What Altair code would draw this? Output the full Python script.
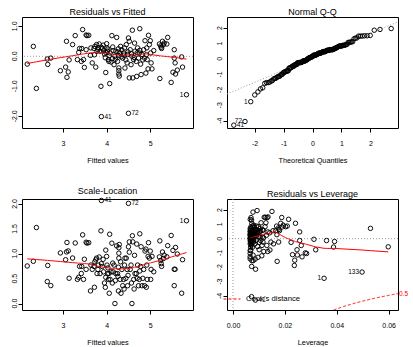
import math
from statistics import NormalDist
import numpy as np
import pandas as pd
import altair as alt

obs_ids = ["1", "41", "72", "133"]   # the four observations that R names
fitted = [5.83, 3.88, 4.50, 2.39,
          2.18, 2.32, 2.64, 2.65, 2.72, 2.94, 3.06, 3.08, 3.09, 3.12,
          3.14, 3.22, 3.28, 3.33, 3.36, 3.38, 3.42, 3.43, 3.45, 3.47,
          3.49, 3.53, 3.53, 3.55, 3.59, 3.63, 3.64, 3.67, 3.71, 3.73,
          3.75, 3.77, 3.78, 3.81, 3.83, 3.85, 3.87, 3.90, 3.92, 3.93,
          3.98, 3.98, 4.00, 4.01, 4.02, 4.04, 4.05, 4.07, 4.08, 4.10,
          4.12, 4.13, 4.15, 4.17, 4.19, 4.21, 4.23, 4.25, 4.27, 4.28,
          4.28, 4.28, 4.29, 4.31, 4.32, 4.35, 4.37, 4.39, 4.41, 4.42,
          4.45, 4.47, 4.48, 4.50, 4.52, 4.52, 4.54, 4.56, 4.58, 4.59,
          4.60, 4.62, 4.64, 4.65, 4.68, 4.69, 4.71, 4.73, 4.75, 4.76,
          4.78, 4.79, 4.81, 4.85, 4.87, 4.88, 4.90, 4.92, 4.93, 4.95,
          4.96, 4.98, 5.00, 5.01, 5.02, 5.04, 5.08, 5.21, 5.22, 5.25,
          5.26, 5.28, 5.32, 5.38, 5.40, 5.48, 5.52, 5.55, 5.55, 5.57,
          5.58, 5.62, 5.72, 5.74,
          3.72, 3.80, 3.88, 3.95, 4.03, 4.06, 4.14, 4.20, 4.26, 4.33,
          4.40, 4.44, 4.49, 4.57, 4.63, 4.70, 4.76, 4.83, 4.91, 5.24,
          5.30, 4.27, 3.97]
resid = [-1.28, -2.01, -1.90, -1.07,
         -0.26, 0.33, -0.09, -0.27, -0.06, -0.48, -0.36, 0.50, -0.70, -0.52,
         -0.12, 0.39, 0.69, -0.11, 0.13, 0.26, -0.17, 0.26, 0.89, -0.11,
         -0.37, 0.71, 0.22, 0.69, 0.70, 0.03, 0.28, -0.22, 0.26, 0.33,
         -0.36, 0.39, 0.17, 0.28, 0.41, 0.17, -1.00, 0.26, 0.37, 0.19,
         -0.54, 0.13, 0.42, 0.28, 0.17, -0.11, -0.17, -0.91, 0.11, -0.19,
         0.69, -0.08, 0.19, -0.28, 0.00, 0.17, 0.63, -0.17, 0.03, -0.39,
         -0.48, -0.59, -0.66, 0.11, 0.33, 0.22, -0.06, 0.11, 0.28, -0.39,
         0.39, -0.22, 0.06, 0.61, -0.72, 0.50, 0.22, -0.28, 0.00, 0.87,
         -0.72, -0.11, 0.44, 0.17, -0.17, -0.67, 0.28, -0.06, 0.11, 0.92,
         -0.26, -0.61, 0.06, 0.22, -0.06, 0.52, -0.56, 0.28, -0.11, -0.42,
         0.70, 0.39, 0.52, 0.11, -0.22, -0.42, 0.19, 0.41, -0.74, 0.30,
         0.26, 0.50, 0.44, 0.41, 0.63, -0.87, -0.53, -0.06, 0.22, -0.22,
         -0.59, -0.46, -0.02, -0.36,
         0.05, 0.22, 0.30, 0.08, 0.24, 0.02, 0.31, -0.10, 0.14, -0.02,
         0.04, -0.12, 0.15, 0.08, -0.04, 0.12, 0.20, -0.12, 0.05, 0.35,
         0.38, 0.25, -0.05]

n_params = 2
cook_level = 0.5

titles = ["Residuals vs Fitted", "Normal Q-Q", "Scale-Location", "Residuals vs Leverage"]
x_titles = ["Fitted values", "Theoretical Quantiles", "Fitted values", "Leverage"]
legend_label = "Cook's distance"

# axis ranges and ticks
fit_dom = [2.06, 5.98]
p1_ydom = [-2.39, 1.31]
p2_xdom = [-2.95, 2.95]
p2_ydom = [-4.47, 2.71]
p3_ydom = [-0.13, 2.10]
p4_xdom = [-0.0023, 0.0636]
p4_ydom = [-4.98, 2.77]
fit_ticks = [3, 4, 5]
p1_yticks = [-2, -1, 0, 1]
p2_xticks = [-2, -1, 0, 1, 2]
p2_yticks = [-4, -3, -2, -1, 0, 1, 2]
p3_yticks = [0, 0.5, 1, 1.5, 2]
p4_xticks = [0, 0.01, 0.02, 0.03, 0.04, 0.05, 0.06]
p4_yticks = [-4, -3, -2, -1, 0, 1, 2]

FONT = "Liberation Sans"
W, H = 171, 111
TICK = 4
PAD_L, PAD_T = 10, 7
HSP, VSP = 21, 22

# ---- standard lm diagnostics derived from the observations ----
f = np.array(fitted)
r = np.array(resid)
n = len(f)
ids = obs_ids + [""] * (n - len(obs_ids))
s = math.sqrt((r ** 2).sum() / (n - n_params))
fc = f - f.mean()
lev = 1 / n + fc ** 2 / (fc ** 2).sum()
std = r / (s * np.sqrt(1 - lev))
df = pd.DataFrame(dict(fitted=f, resid=r, lev=lev, std=std,
                       sl=np.sqrt(np.abs(std)),
                       cook=std ** 2 * lev / (n_params * (1 - lev)),
                       id=ids))

order = np.argsort(std)
qq = pd.DataFrame(dict(theo=[NormalDist().inv_cdf((i + 0.5) / n) for i in range(n)],
                       std=std[order], id=[ids[i] for i in order],
                       absr=np.abs(r[order])))

q1, q3 = np.quantile(std, [0.25, 0.75])
x1, x3 = NormalDist().inv_cdf(0.25), NormalDist().inv_cdf(0.75)
slope = (q3 - q1) / (x3 - x1)
icpt = q1 - slope * x1
qqline = pd.DataFrame(dict(theo=p2_xdom, std=[icpt + slope * v for v in p2_xdom]))


def label_frame(d, xcol, ycol, rankcol, k=3):
    top = d.reindex(d[rankcol].abs().sort_values(ascending=False).index[:k])
    xs = top[xcol]
    mid = (xs.min() + xs.max()) / 2
    return pd.DataFrame(dict(x=xs.values, y=top[ycol].values, text=top["id"].values,
                             side=["right" if v < mid else "left" for v in xs]))


def labels(ld):
    right = alt.Chart(ld[ld.side == "right"]).mark_text(
        align="left", baseline="middle", dx=3, font=FONT, fontSize=6.5, color="black"
    ).encode(x="x:Q", y="y:Q", text="text:N")
    left = alt.Chart(ld[ld.side == "left"]).mark_text(
        align="right", baseline="middle", dx=-3, font=FONT, fontSize=6.5, color="black"
    ).encode(x="x:Q", y="y:Q", text="text:N")
    return [right, left]


def xax(title, vals, decimals=None):
    expr = f"format(datum.value, '.{decimals}f')" if decimals else "'' + datum.value"
    return alt.Axis(values=vals, title=title, labelOverlap=False, labelFlush=False,
                    labelExpr=f"replace({expr}, '\u2212', '-')")


def yax(vals):
    return alt.Axis(values=vals, title=None, labels=False)


def ylabels(vals, field, decimals):
    # rotated y tick labels (R style, reading bottom-to-top), one per tick value
    txt = [f"{v:.{decimals}f}" for v in vals]
    d = pd.DataFrame({field: vals, "lab": txt})
    return alt.Chart(d).mark_text(angle=270, align="center", baseline="bottom",
                                  font=FONT, fontSize=7, color="black").encode(
        x=alt.value(-TICK), y=alt.Y(f"{field}:Q"), text="lab:N")


def ttl(t):
    return alt.TitleParams(t, font=FONT, fontSize=9, fontWeight="normal",
                           offset=0, color="black")


pt = dict(shape="circle", filled=False, color="black", size=20, strokeWidth=0.95, opacity=1)
dot = dict(color="#9a9a9a", strokeDash=[1, 2], strokeWidth=1)

# Panel 1: Residuals vs Fitted
p1_pts = alt.Chart(df).mark_point(**pt).encode(
    x=alt.X("fitted:Q", scale=alt.Scale(domain=fit_dom, nice=False, zero=False),
            axis=xax(x_titles[0], fit_ticks)),
    y=alt.Y("resid:Q", scale=alt.Scale(domain=p1_ydom, nice=False, zero=False),
            axis=yax(p1_yticks)))
p1_zero = alt.Chart(pd.DataFrame(dict(resid=[0.0]))).mark_rule(**dot).encode(y="resid:Q")
p1_smooth = alt.Chart(df).transform_loess("fitted", "resid", bandwidth=0.67).mark_line(
    color="red", strokeWidth=1).encode(x="fitted:Q", y="resid:Q")
p1 = alt.layer(p1_zero, p1_pts, p1_smooth, ylabels(p1_yticks, "resid", 1),
               *labels(label_frame(df, "fitted", "resid", "resid"))).properties(
    width=W, height=H, title=ttl(titles[0]))

# Panel 2: Normal Q-Q
p2_pts = alt.Chart(qq).mark_point(**pt).encode(
    x=alt.X("theo:Q", scale=alt.Scale(domain=p2_xdom, nice=False, zero=False),
            axis=xax(x_titles[1], p2_xticks)),
    y=alt.Y("std:Q", scale=alt.Scale(domain=p2_ydom, nice=False, zero=False),
            axis=yax(p2_yticks)))
p2_line = alt.Chart(qqline).mark_line(clip=True, **dot).encode(x="theo:Q", y="std:Q")
p2 = alt.layer(p2_line, p2_pts, ylabels(p2_yticks, "std", 0),
               *labels(label_frame(qq, "theo", "std", "absr"))).properties(
    width=W, height=H, title=ttl(titles[1]))

# Panel 3: Scale-Location
p3_pts = alt.Chart(df).mark_point(**pt).encode(
    x=alt.X("fitted:Q", scale=alt.Scale(domain=fit_dom, nice=False, zero=False),
            axis=xax(x_titles[2], fit_ticks)),
    y=alt.Y("sl:Q", scale=alt.Scale(domain=p3_ydom, nice=False, zero=False),
            axis=yax(p3_yticks)))
p3_smooth = alt.Chart(df).transform_loess("fitted", "sl", bandwidth=0.67).mark_line(
    color="red", strokeWidth=1).encode(x="fitted:Q", y="sl:Q")
p3 = alt.layer(p3_pts, p3_smooth, ylabels(p3_yticks, "sl", 1),
               *labels(label_frame(df, "fitted", "sl", "std"))).properties(
    width=W, height=H, title=ttl(titles[2]))

# Panel 4: Residuals vs Leverage
p4_pts = alt.Chart(df).mark_point(clip=True, **pt).encode(
    x=alt.X("lev:Q", scale=alt.Scale(domain=p4_xdom, nice=False, zero=False),
            axis=xax(x_titles[3], p4_xticks, 2)),
    y=alt.Y("std:Q", scale=alt.Scale(domain=p4_ydom, nice=False, zero=False),
            axis=yax(p4_yticks)))
p4_h0 = alt.Chart(pd.DataFrame(dict(std=[0.0]))).mark_rule(**dot).encode(y="std:Q")
p4_v0 = alt.Chart(pd.DataFrame(dict(lev=[0.0]))).mark_rule(**dot).encode(x="lev:Q")
p4_smooth = alt.Chart(df).transform_loess("lev", "std", bandwidth=0.67).mark_line(
    color="red", strokeWidth=1).encode(x="lev:Q", y="std:Q")

cook = alt.Chart(alt.sequence(0.03, p4_xdom[1] + 0.0001, 0.0002, as_="lev")).transform_calculate(
    std=f"-sqrt({cook_level}*{n_params}*(1-datum.lev)/datum.lev)",
    name=f"'{legend_label.replace(chr(39), chr(92) + chr(39))}'").mark_line(
    clip=True, strokeWidth=1).encode(
    x="lev:Q", y="std:Q",
    color=alt.Color("name:N", scale=alt.Scale(range=["red"]),
                    legend=alt.Legend(title=None, orient="none",
                                      legendX=201, legendY=273,
                                      symbolType="stroke", symbolDash=[3, 2],
                                      symbolSize=289, symbolStrokeWidth=1,
                                      labelFont=FONT, labelFontSize=7.7, labelColor="black",
                                      labelOffset=5, padding=0)),
    strokeDash=alt.StrokeDash("name:N", scale=alt.Scale(range=[[3, 2]]), legend=None))
cook_lab = pd.DataFrame(dict(lev=[p4_xdom[1]],
                             std=[-math.sqrt(cook_level * n_params * (1 - p4_xdom[1]) / p4_xdom[1])],
                             text=[str(cook_level)]))
cook_txt = alt.Chart(cook_lab).mark_text(align="left", baseline="middle", dx=1, font=FONT,
                                         fontSize=6.5, color="red").encode(
    x="lev:Q", y="std:Q", text="text:N")
p4 = alt.layer(p4_h0, p4_v0, p4_pts, p4_smooth, cook, cook_txt,
               ylabels(p4_yticks, "std", 0),
               *labels(label_frame(df, "lev", "std", "cook"))).properties(
    width=W, height=H, title=ttl(titles[3]))

top = alt.hconcat(p1, p2, spacing=HSP)
bottom = alt.hconcat(p3, p4, spacing=HSP)
chart = alt.vconcat(top, bottom, spacing=VSP).properties(
    padding={"left": PAD_L, "top": PAD_T, "right": 0, "bottom": 0},
    background="white"
).configure_view(stroke="black", strokeWidth=1).configure_axis(
    domain=False, grid=False, ticks=True, tickColor="black", tickSize=TICK, tickWidth=1,
    labelFont=FONT, labelFontSize=7, labelColor="black",
    titleFont=FONT, titleFontSize=7.3, titleFontWeight="normal", titleColor="black"
).configure_axisX(labelPadding=7, titlePadding=10)

chart.save("out.html", embed_options={"renderer": "svg", "actions": False})
